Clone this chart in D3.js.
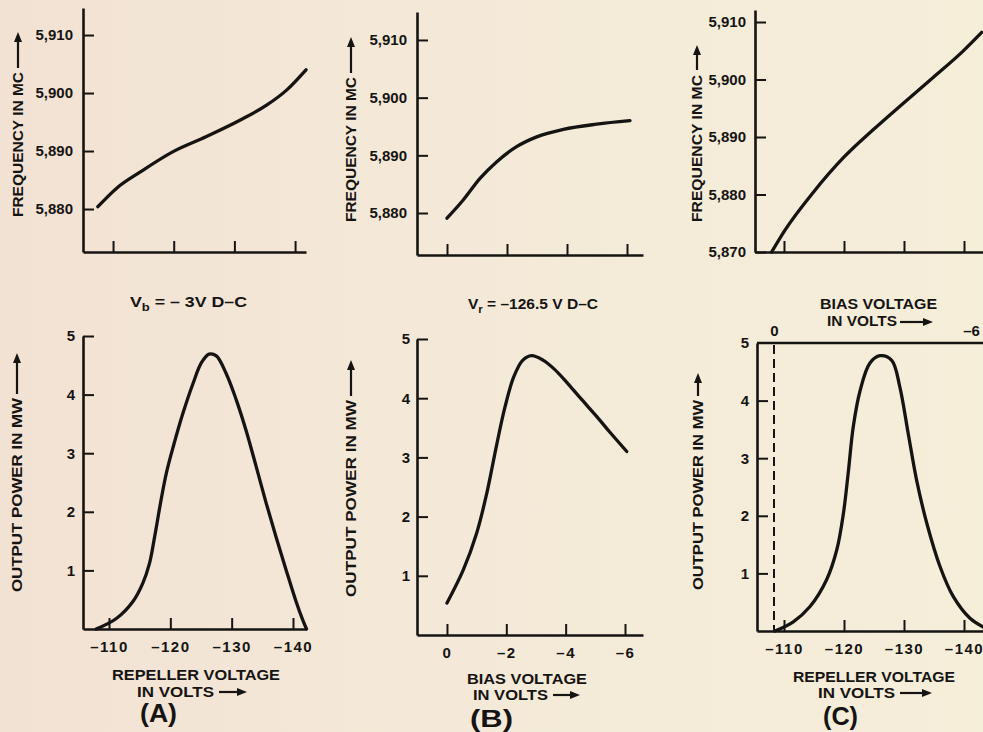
<!DOCTYPE html>
<html><head><meta charset="utf-8">
<script src="https://cdn.jsdelivr.net/npm/d3@7"></script>
<style>
html,body{margin:0;padding:0;background:#f4e9d8;}
svg{display:block;}
text{font-family:"Liberation Sans","Arial",sans-serif;font-weight:bold;fill:#161412;}
</style></head>
<body><svg id="chart" width="983" height="732"></svg>
<script>
// ---------- tick labels ----------
const freqTicks  = [5880, 5890, 5900, 5910];
const freqTicksC = [5870, 5880, 5890, 5900, 5910];
const powerTicks = [1, 2, 3, 4, 5];
const repellerTicks = [-110, -120, -130, -140];
const biasTicks = [0, -2, -4, -6];
const biasTopTicks = [0, -6];

// ---------- (A) frequency vs repeller voltage (Vb = -3 V) ----------
const aFreqRepeller = [-107.5, -110.6, -114.5, -119.9, -125.4, -130.9, -135.3, -138.6, -141.8];
const aFreqMC       = [5880.4, 5883.6, 5886.4, 5889.9, 5892.5, 5895.3, 5897.9, 5900.5, 5904.0];
// ---------- (A) output power vs repeller voltage ----------
const aPowRepeller = [-107.9, -111.2, -113.9, -115.5, -116.6, -117.45, -118.4, -119.35, -120.55, -122.05, -123.7, -125.05, -126.3, -127.5, -129.1, -130.75, -132.4, -134.0, -135.65, -137.3, -138.9, -140.5, -141.6, -142.2];
const aPowMW       = [0.0, 0.18, 0.47, 0.78, 1.12, 1.58, 2.15, 2.66, 3.14, 3.68, 4.19, 4.54, 4.69, 4.66, 4.36, 3.91, 3.37, 2.77, 2.14, 1.55, 1.0, 0.47, 0.15, 0.0];

// ---------- (B) frequency vs bias voltage (Vr = -126.5 V) ----------
const bFreqBias = [0.0, -0.54, -1.1, -1.66, -2.32, -2.99, -3.88, -4.99, -6.1];
const bFreqMC   = [5879.1, 5882.25, 5886.0, 5888.9, 5891.5, 5893.2, 5894.5, 5895.4, 5896.0];
// ---------- (B) output power vs bias voltage ----------
const bPowBias = [0.0, -0.55, -1.0, -1.34, -1.67, -1.95, -2.25, -2.55, -2.85, -3.25, -3.6, -4.0, -4.5, -5.05, -5.5, -6.06];
const bPowMW   = [0.54, 1.10, 1.72, 2.39, 3.20, 3.84, 4.36, 4.64, 4.72, 4.64, 4.50, 4.29, 4.00, 3.69, 3.42, 3.10];

// ---------- (C) frequency vs repeller voltage ----------
const cFreqRepeller = [-107.95, -110.17, -114.9, -119.9, -124.9, -129.8, -134.9, -139.8, -142.95];
const cFreqMC       = [5870.0, 5873.8, 5880.4, 5886.4, 5891.3, 5895.8, 5900.4, 5904.9, 5908.2];
// ---------- (C) output power vs repeller voltage ----------
const cPowRepeller = [-108.5, -111.55, -114.3, -117.1, -118.8, -119.9, -120.7, -121.55, -122.7, -124.3, -126.0, -127.95, -129.3, -130.7, -132.1, -133.8, -136.0, -138.2, -141.0, -143.2];
const cPowMW       = [0.0, 0.16, 0.42, 0.89, 1.41, 2.04, 2.74, 3.55, 4.18, 4.65, 4.78, 4.70, 4.24, 3.43, 2.62, 1.87, 1.12, 0.60, 0.22, 0.07];

const svg = d3.select("#chart");
const INK = "#161412";

const defs = svg.append("defs");
const grad = defs.append("linearGradient").attr("id","paper").attr("x1","0").attr("x2","1").attr("y1","0").attr("y2","0");
grad.append("stop").attr("offset","0%").attr("stop-color","#f2e2d3");
grad.append("stop").attr("offset","45%").attr("stop-color","#f4e9d8");
grad.append("stop").attr("offset","100%").attr("stop-color","#f5eed9");
svg.append("rect").attr("width",983).attr("height",732).attr("fill","url(#paper)");

const fmtFreq = d3.format(",");
const fmtNeg = d => d === 0 ? "0" : "\u2013" + Math.abs(d);

function styleAxis(g){
  g.select(".domain").attr("stroke",INK).attr("stroke-width",2.6);
  g.selectAll(".tick line").attr("stroke",INK).attr("stroke-width",2);
  g.selectAll(".tick text").style("font-size","15px").attr("fill",INK);
}

function panel(o){
  const g = svg.append("g");
  const x = d3.scaleLinear().domain(o.xDomain).range(o.xRange);
  const y = d3.scaleLinear().domain(o.yDomain).range(o.yRange);
  g.append("g").attr("transform",`translate(${o.xRange[0]},0)`)
    .call(d3.axisLeft(y).tickValues(o.yTicks).tickFormat(o.yFmt).tickSize(-11).tickSizeOuter(0).tickPadding(o.yPad||9))
    .call(styleAxis);
  const xa = g.append("g").attr("transform",`translate(0,${o.yRange[0]})`)
    .call(d3.axisBottom(x).tickValues(o.xTicks).tickFormat(o.xFmt || (()=>"")).tickSize(-11).tickSizeOuter(0).tickPadding(12))
    .call(styleAxis);
  xa.selectAll(".tick text").style("letter-spacing","1.5px");
  const pts = o.xs.map((v,i)=>[v,o.ys[i]]);
  g.append("path").datum(pts)
    .attr("fill","none").attr("stroke",INK).attr("stroke-width",3.3)
    .attr("stroke-linecap","round").attr("stroke-linejoin","round")
    .attr("d", d3.line().x(d=>x(d[0])).y(d=>y(d[1])).curve(o.curve || d3.curveMonotoneX));
  return {g,x,y};
}

function arrowH(x1,x2,y){
  svg.append("line").attr("x1",x1).attr("x2",x2-7).attr("y1",y).attr("y2",y).attr("stroke",INK).attr("stroke-width",2.2);
  svg.append("path").attr("d",`M${x2},${y} L${x2-10},${y-4} L${x2-10},${y+4} Z`).attr("fill",INK);
}
function arrowV(x,y1,y2){
  svg.append("line").attr("x1",x).attr("x2",x).attr("y1",y1).attr("y2",y2+7).attr("stroke",INK).attr("stroke-width",2.2);
  svg.append("path").attr("d",`M${x},${y2} L${x-4},${y2+10} L${x+4},${y2+10} Z`).attr("fill",INK);
}
function hText(t,x1,x2,base,size){
  return svg.append("text").attr("x",x1).attr("y",base).attr("textLength",x2-x1).attr("lengthAdjust","spacingAndGlyphs")
    .style("font-size",(size||15)+"px").text(t);
}
function vText(t,cx,yBottom,yTop,size){
  return svg.append("text").attr("transform",`translate(${cx},${yBottom}) rotate(-90)`)
    .attr("x",0).attr("y",0).attr("dy","0.36em").attr("textLength",yBottom-yTop).attr("lengthAdjust","spacingAndGlyphs")
    .style("font-size",(size||15)+"px").text(t);
}
const smooth = d3.curveCatmullRom.alpha(0.5);

// ===== Panel A =====
panel({xDomain:[-105.05,-141.8], xRange:[83,306], yDomain:[5872.59,5914.66], yRange:[252,8],
  xTicks:repellerTicks, yTicks:freqTicks, yFmt:fmtFreq, xs:aFreqRepeller, ys:aFreqMC, yPad:10});
panel({xDomain:[-105.76,-142.12], xRange:[83,306], yDomain:[0,5], yRange:[629,336],
  xTicks:repellerTicks, xFmt:fmtNeg, yTicks:powerTicks, yFmt:d3.format("d"), xs:aPowRepeller, ys:aPowMW, yPad:8, curve:smooth});

// ===== Panel B =====
panel({xDomain:[1.0,-6.533], xRange:[417,643], yDomain:[5872.72,5914.85], yRange:[255,12],
  xTicks:biasTicks, yTicks:freqTicks, yFmt:fmtFreq, xs:bFreqBias, ys:bFreqMC, yPad:10});
panel({xDomain:[1.01,-6.607], xRange:[417,643], yDomain:[0,5], yRange:[635,339],
  xTicks:biasTicks, xFmt:fmtNeg, yTicks:powerTicks, yFmt:d3.format("d"), xs:bPowBias, ys:bPowMW, yPad:7, curve:smooth});

// ===== Panel C =====
panel({xDomain:[-105.17,-146.0], xRange:[755,1000], yDomain:[5870,5912.09], yRange:[252,10],
  xTicks:repellerTicks, yTicks:freqTicksC, yFmt:fmtFreq, xs:cFreqRepeller, ys:cFreqMC, yPad:9});
panel({xDomain:[-105.5,-146.0], xRange:[757,1000], yDomain:[0,5], yRange:[631,343],
  xTicks:repellerTicks, xFmt:fmtNeg, yTicks:powerTicks.slice(0,4), yFmt:d3.format("d"), xs:cPowRepeller, ys:cPowMW, yPad:8, curve:smooth});
const biasC = d3.scaleLinear().domain([0,-6]).range([774,971]);
const topAx = svg.append("g").attr("transform","translate(0,343)")
  .call(d3.axisTop(biasC).tickValues(biasTopTicks).tickFormat(fmtNeg).tickSize(0).tickPadding(7));
topAx.select(".domain").remove();
topAx.selectAll(".tick text").style("font-size","15px").attr("fill",INK);
svg.append("line").attr("x1",757).attr("x2",1000).attr("y1",343).attr("y2",343).attr("stroke",INK).attr("stroke-width",2.6);
svg.append("text").attr("x",745).attr("y",343).attr("dy","0.36em").attr("text-anchor","middle").style("font-size","15px").text("5");
svg.append("line").attr("x1",biasC(0)).attr("x2",biasC(0)).attr("y1",345).attr("y2",630)
  .attr("stroke",INK).attr("stroke-width",2).attr("stroke-dasharray","9,5");

// ===== Axis titles =====
vText("FREQUENCY IN MC",18,217,72); arrowV(18,68,32);
vText("FREQUENCY IN MC",351,222,77); arrowV(351,73,37);
vText("FREQUENCY IN MC",697,222,75); arrowV(697,70,45);
vText("OUTPUT POWER IN MW",17,592,398); arrowV(17,394,353);
vText("OUTPUT POWER IN MW",351,597,400); arrowV(351,396,360);
vText("OUTPUT POWER IN MW",698,590,400); arrowV(698,396,373);

// conditions
const vb = svg.append("text").attr("x",130).attr("y",307).attr("textLength",117).attr("lengthAdjust","spacingAndGlyphs").style("font-size","15px");
vb.append("tspan").text("V");
vb.append("tspan").attr("dy",4).style("font-size","11px").text("b");
vb.append("tspan").attr("dy",-4).text(" = \u2013 3V D\u2013C");
const vr = svg.append("text").attr("x",468).attr("y",309).attr("textLength",130).attr("lengthAdjust","spacingAndGlyphs").style("font-size","15px");
vr.append("tspan").text("V");
vr.append("tspan").attr("dy",4).style("font-size","11px").text("r");
vr.append("tspan").attr("dy",-4).text("  = \u2013126.5 V D\u2013C");

// bottom labels
hText("REPELLER VOLTAGE",112,280,680); hText("IN VOLTS",137,214,697); arrowH(219,247,692);
hText("(A)",140,177,722,26);
hText("BIAS VOLTAGE",467,587,684); hText("IN VOLTS",473,548,700); arrowH(553,580,695);
hText("(B)",470,513,726.5,24);
hText("REPELLER VOLTAGE",793,955,682); hText("IN VOLTS",818,895,698); arrowH(900,932,693);
hText("(C)",823,858,725,26);
hText("BIAS VOLTAGE",820,937,309,14); hText("IN VOLTS",827,897,326,14); arrowH(900,933,322);
</script></body></html>
